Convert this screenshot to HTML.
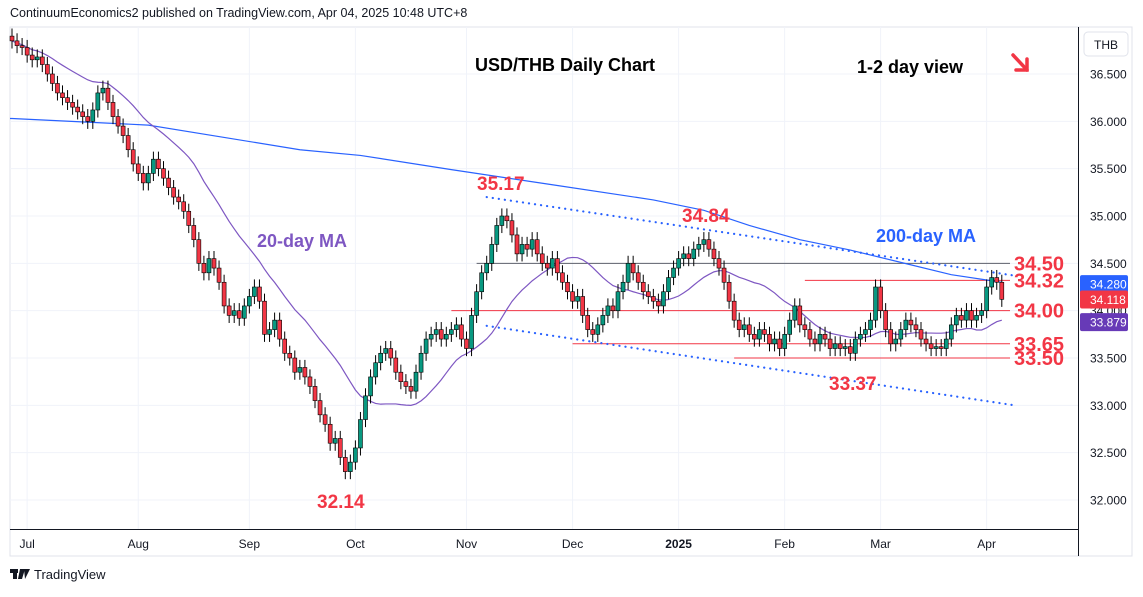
<!DOCTYPE html>
<html><head><meta charset="utf-8">
<style>
html,body{margin:0;padding:0;background:#fff;}
body{width:1143px;height:592px;overflow:hidden;font-family:"Liberation Sans",sans-serif;}
svg text{font-family:"Liberation Sans",sans-serif;}
</style></head>
<body>
<svg id="chart" width="1143" height="592" xmlns="http://www.w3.org/2000/svg">
<rect x="0" y="0" width="1143" height="592" fill="#fff"/>
<text x="10" y="17" font-size="12.5" fill="#131722">ContinuumEconomics2 published on TradingView.com, Apr 04, 2025 10:48 UTC+8</text>
<rect x="10" y="27" width="1122" height="529" fill="none" stroke="#e0e3eb"/>
<g id="grid"></g>
<g id="levels"></g>
<g id="mas"></g>
<g id="candles"></g>
<line x1="10" y1="529.5" x2="1078" y2="529.5" stroke="#131722" stroke-width="1"/>
<line x1="1078.5" y1="27" x2="1078.5" y2="556" stroke="#131722" stroke-width="1"/>
<g id="yaxis"></g>
<g id="xaxis"></g>
<rect x="1084" y="32" width="44" height="24" rx="4" fill="#fff" stroke="#e0e3eb"/>
<text x="1106" y="49" font-size="12" fill="#131722" text-anchor="middle">THB</text>
<text x="475" y="71" font-size="18" font-weight="bold" fill="#000">USD/THB Daily Chart</text>
<text x="857" y="73" font-size="18" font-weight="bold" fill="#000">1-2 day view</text>
<g stroke="#f23645" stroke-width="3.5" fill="none" stroke-linecap="round">
<line x1="1013" y1="55" x2="1027" y2="70"/><polyline points="1016,70 1027,70 1027,59"/></g>
<text x="477" y="190" font-size="19" font-weight="bold" fill="#f23645">35.17</text>
<text x="682" y="222" font-size="19" font-weight="bold" fill="#f23645">34.84</text>
<text x="257" y="247" font-size="18" font-weight="bold" fill="#7e57c2">20-day MA</text>
<text x="876" y="242" font-size="18" font-weight="bold" fill="#2962ff">200-day MA</text>
<text x="317" y="508" font-size="19" font-weight="bold" fill="#f23645">32.14</text>
<text x="829" y="390" font-size="19" font-weight="bold" fill="#f23645">33.37</text>
<g id="badges"></g>
<g>
<rect x="10" y="569" width="8" height="4" fill="#131722"/><rect x="13" y="569" width="4" height="10" fill="#131722"/>
<polygon points="20,569 25,569 22,579 18,579" fill="#131722"/><polygon points="24,569 30,569 25,579" fill="#131722"/>
<text x="34" y="579" font-size="13" fill="#131722">TradingView</text></g>
</svg>
<script>
const closes=[36.85,36.80,36.78,36.70,36.65,36.68,36.60,36.50,36.40,36.30,36.25,36.20,36.15,36.10,36.05,36.00,36.12,36.30,36.35,36.20,
36.05,35.95,35.85,35.70,35.55,35.45,35.35,35.45,35.60,35.50,35.40,35.30,35.20,35.15,35.05,34.90,34.75,34.50,34.40,34.55,
34.45,34.30,34.05,33.95,34.00,33.92,34.05,34.15,34.25,34.10,33.75,33.80,33.90,33.70,33.55,33.50,33.35,33.40,33.30,33.20,
33.05,32.90,32.80,32.60,32.65,32.45,32.30,32.40,32.55,32.85,33.10,33.30,33.45,33.55,33.60,33.50,33.35,33.25,33.20,33.15,
33.35,33.55,33.70,33.75,33.80,33.70,33.75,33.80,33.85,33.70,33.60,33.95,34.20,34.40,34.50,34.70,34.90,35.00,34.95,34.80,
34.60,34.70,34.65,34.75,34.60,34.50,34.45,34.55,34.40,34.30,34.20,34.10,34.15,33.95,33.80,33.75,33.85,33.95,34.05,34.00,
34.20,34.30,34.50,34.40,34.30,34.20,34.15,34.10,34.05,34.20,34.35,34.45,34.55,34.60,34.55,34.65,34.70,34.75,34.65,34.55,
34.45,34.30,34.10,33.90,33.80,33.85,33.75,33.70,33.80,33.75,33.65,33.70,33.60,33.75,33.90,34.05,33.85,33.80,33.70,33.65,
33.75,33.70,33.60,33.65,33.60,33.62,33.55,33.70,33.75,33.80,33.90,34.25,34.00,33.80,33.65,33.70,33.80,33.90,33.85,33.80,
33.70,33.65,33.60,33.62,33.60,33.70,33.85,33.95,33.90,34.00,33.90,33.95,34.00,34.25,34.35,34.30,34.12];
const ma200Idx=[0,27,57,69,87,107,127,137,146,156,166,176,186,196];
const ma200Val=[36.03,35.96,35.70,35.64,35.49,35.33,35.17,35.06,34.90,34.75,34.64,34.51,34.38,34.30];
const yTicks=[36.5,36.0,35.5,35.0,34.5,34.0,33.5,33.0,32.5,32.0];
const monthLabels=["Jul","Aug","Sep","Oct","Nov","Dec","2025","Feb","Mar","Apr"];
const monthIdx=[3,25,47,68,90,111,132,153,172,193];
const levelVals=[34.50,34.32,34.00,33.65,33.50];
const levelStart=[92,157,87,111,143];
const levelText=["34.50","34.32","34.00","33.65","33.50"];
const badgeVals=[34.28,34.118,33.879];
const badgeText=["34.280","34.118","33.879"];
const badgeColors=["#2962ff","#f23645","#673ab7"];
const upperTL=[[94,35.20],[197,34.37]];
const lowerTL=[[94,33.84],[197,33.00]];

const NS="http://www.w3.org/2000/svg";
const X=i=>12+i*5.05;
const Y=p=>74+(36.5-p)*94.67;
function mk(tag,attrs,parent){const e=document.createElementNS(NS,tag);for(const k in attrs)e.setAttribute(k,attrs[k]);parent.appendChild(e);return e;}
const g=id=>document.getElementById(id);

yTicks.forEach((t)=>{const l=mk('line',{x1:10,x2:1078,y1:Y(t),y2:Y(t),stroke:'#f0f3fa'},g('grid'));


const tx=mk('text',{x:1090,y:Y(t)+4.5,'font-size':12,fill:'#131722'},g('yaxis'));tx.textContent=t.toFixed(3);

});
monthLabels.forEach((m,k)=>{const x=X(monthIdx[k]);const l=mk('line',{x1:x,x2:x,y1:27,y2:529,stroke:'#f0f3fa'},g('grid'));


const tx=mk('text',{x:x,y:548,'font-size':12,fill:'#131722','text-anchor':'middle'},g('xaxis'));tx.textContent=m;
if(m==="2025")tx.setAttribute('font-weight','bold');

});

levelVals.forEach((v,k)=>{const l=mk('line',{x1:X(levelStart[k]),x2:1010,y1:Y(v),y2:Y(v),stroke:k==0?'#5d606b':'#f23645','stroke-width':1},g('levels'));


const t=mk('text',{x:1014,y:Y(v)+7,'font-size':20,'font-weight':'bold',fill:'#f23645'},g('levels'));t.textContent=levelText[k];

});
[upperTL,lowerTL].forEach(tl=>{const l=mk('line',{x1:X(tl[0][0]),y1:Y(tl[0][1]),x2:X(tl[1][0])+8,y2:Y(tl[1][1]),stroke:'#2962ff','stroke-width':2.2,'stroke-dasharray':'0.1,6','stroke-linecap':'round'},g('levels'));

});

let pts=ma200Idx.map((i,k)=>X(i)+','+Y(ma200Val[k])).join(' ');
pts=(10)+','+Y(ma200Val[0])+' '+pts;
const m2=mk('polyline',{points:pts,fill:'none',stroke:'#2962ff','stroke-width':1.2},g('mas'));


const ma20=closes.map((c,i)=>{const s=closes.slice(Math.max(0,i-19),i+1);return s.reduce((a,b)=>a+b,0)/s.length;});
const m1=mk('polyline',{points:ma20.map((v,i)=>X(i)+','+Y(v)).join(' '),fill:'none',stroke:'#7e57c2','stroke-width':1.2},g('mas'));



closes.forEach((c,i)=>{const o=i?closes[i-1]:c+0.05;const up=c>=o;const col=up?'#089981':'#f23645';
const hi=Math.max(o,c)+0.08,lo=Math.min(o,c)-0.08;const x=X(i);
const w=mk('line',{x1:x,x2:x,y1:Y(hi),y2:Y(lo),stroke:'#000','stroke-width':1},g('candles'));


const top=Y(Math.max(o,c)),h=Math.max(1,Y(Math.min(o,c))-top);
const b=mk('rect',{x:x-2,y:top,width:4,height:h,fill:col,stroke:'#000','stroke-width':0.6},g('candles'));

});

badgeVals.forEach((v,k)=>{const r=mk('rect',{x:1080,y:Y(v)-9,width:48,height:18,rx:2,fill:badgeColors[k]},g('badges'));


const t=mk('text',{x:1090,y:Y(v)+4.5,'font-size':12,fill:'#fff'},g('badges'));t.textContent=badgeText[k];

});
</script>
</body></html>
